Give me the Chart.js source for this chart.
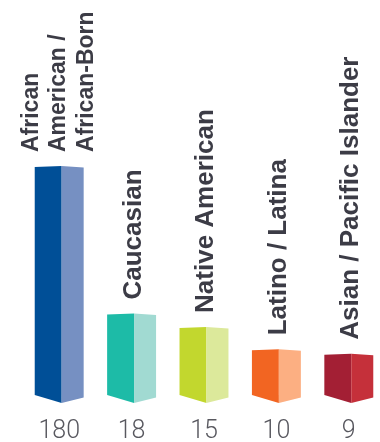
<!DOCTYPE html>
<html><head><meta charset="utf-8">
<script src="https://cdn.jsdelivr.net/npm/chart.js@4.4.1/dist/chart.umd.min.js"></script>
<style>
html,body{margin:0;padding:0;background:#fff;overflow:hidden;width:380px;height:442px}
#wrap{width:386px;height:442px;position:relative}
</style>
</head><body><div id="wrap"><canvas id="c"></canvas></div>
<script>
// ---- data ----
const categories = [
  ["African", "American /", "African-Born"],
  ["Caucasian"],
  ["Native American"],
  ["Latino / Latina"],
  ["Asian / Pacific Islander"]
];
const values = [180, 18, 15, 10, 9];
const valueLabels = ["180", "18", "15", "10", "9"];
const axisCap = 51;   // bars taller than this are cut at the top of the plot

// ---- styles ----
const leftFace  = ["#004f97", "#1dbba7", "#c2d72e", "#f26522", "#a31f34"];
const rightFace = ["#7690c2", "#a1dad2", "#dce99b", "#fcaf82", "#c5303a"];
const labelColor = "#3c3c46";

const prismBars = {
  id: 'prismBars',
  afterDatasetsDraw(chart) {
    const ctx = chart.ctx, area = chart.chartArea;
    const meta = chart.getDatasetMeta(0);
    meta.data.forEach((bar, i) => {
      const p = bar.getProps(['x', 'y', 'base', 'width'], true);
      const top = Math.max(p.y, area.top);
      const x0 = p.x - p.width / 2, x1 = p.x + p.width / 2;
      const xf = x0 + p.width * 0.55;
      const base = p.base;
      ctx.save();
      ctx.beginPath();
      ctx.moveTo(x0, top);
      ctx.lineTo(xf, top - 1);
      ctx.lineTo(xf, base + 8);
      ctx.lineTo(x0, base);
      ctx.closePath();
      ctx.fillStyle = leftFace[i];
      ctx.fill();
      ctx.beginPath();
      ctx.moveTo(xf, top - 1);
      ctx.lineTo(x1, top + 0.5);
      ctx.lineTo(x1, base + 2.5);
      ctx.lineTo(xf, base + 8);
      ctx.closePath();
      ctx.fillStyle = rightFace[i];
      ctx.fill();
      ctx.restore();

      const lines = categories[i];
      const n = lines.length;
      const fs = n > 1 ? 23 : 26;
      const gap = 27.5;
      const cap = fs * 0.716;
      const shift = n > 1 ? -2 : 0;
      ctx.save();
      ctx.translate(p.x + shift, top - 15);
      ctx.rotate(-Math.PI / 2);
      ctx.font = "bold " + fs + "px 'Liberation Sans', Arial, sans-serif";
      ctx.fillStyle = labelColor;
      ctx.textAlign = 'left';
      ctx.textBaseline = 'alphabetic';
      lines.forEach((ln, j) => {
        ctx.fillText(ln, 0, cap / 2 + (j - (n - 1) / 2) * gap);
      });
      ctx.restore();
    });
  }
};

new Chart(document.getElementById('c'), {
  type: 'bar',
  data: {
    labels: categories,
    datasets: [{
      data: values,
      backgroundColor: 'rgba(0,0,0,0)',
      borderWidth: 0,
      barPercentage: 0.676,
      categoryPercentage: 1
    }]
  },
  options: {
    responsive: true,
    maintainAspectRatio: false,
    animation: false,
    layout: { padding: { top: 167, left: 23, right: 1, bottom: 0 } },
    plugins: { legend: { display: false }, tooltip: { enabled: false } },
    scales: {
      x: {
        grid: { display: false, drawTicks: false },
        border: { display: false },
        afterFit: s => { s.height = 47; },
        ticks: {
          padding: 24,
          color: '#58585f',
          font: { family: 'Roboto', size: 25, weight: 300, lineHeight: 1 },
          callback: (v, i) => valueLabels[i]
        }
      },
      y: { display: false, min: 0, max: axisCap }
    }
  },
  plugins: [prismBars]
});
</script>
</body></html>
